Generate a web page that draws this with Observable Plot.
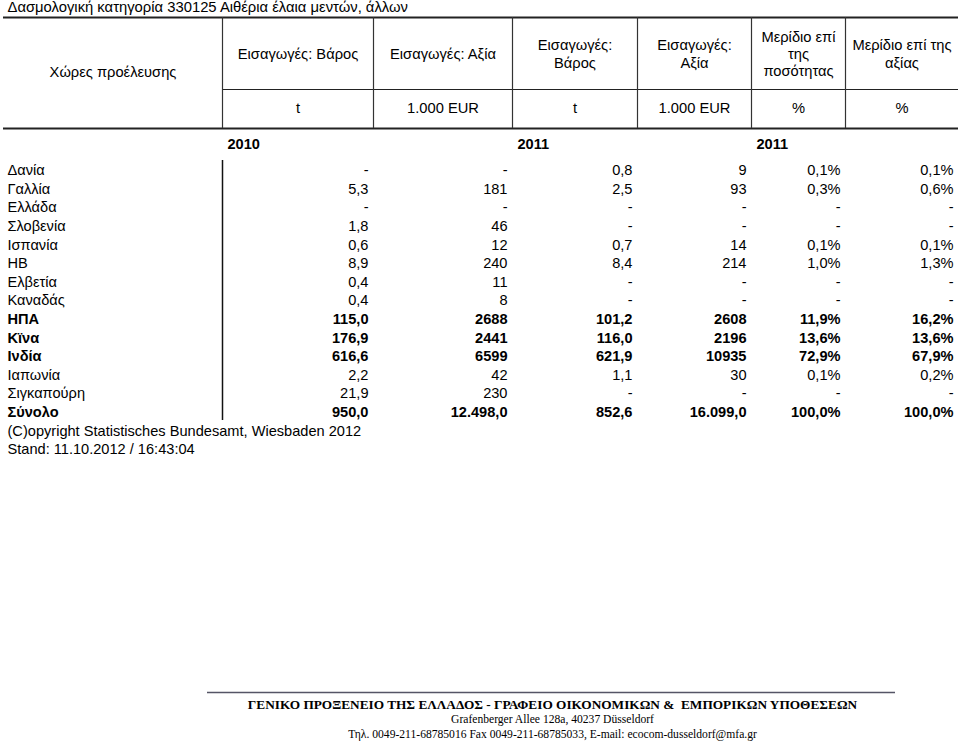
<!DOCTYPE html>
<html>
<head>
<meta charset="utf-8">
<script src="https://cdn.jsdelivr.net/npm/d3@7"></script>
<script src="https://cdn.jsdelivr.net/npm/@observablehq/plot@0.6"></script>
<style>
  html, body { margin: 0; padding: 0; background: #fff; }
  #chart svg { display: block; }
</style>
</head>
<body>
<div id="chart"></div>
<script>
// ---------- DATA ----------
const title = "Δασμολογική κατηγορία 330125 Αιθέρια έλαια μεντών, άλλων";
const countries = ["Δανία","Γαλλία","Ελλάδα","Σλοβενία","Ισπανία","ΗΒ","Ελβετία","Καναδάς","ΗΠΑ","Κϊνα","Ινδία","Ιαπωνία","Σιγκαπούρη","Σύνολο"];
const boldRows = ["ΗΠΑ","Κϊνα","Ινδία","Σύνολο"];
const weight2010 = [null, 5.3, null, 1.8, 0.6, 8.9, 0.4, 0.4, 115.0, 176.9, 616.6, 2.2, 21.9, 950.0];
const value2010  = [null, 181, null, 46, 12, 240, 11, 8, 2688, 2441, 6599, 42, 230, 12498.0];
const weight2011 = [0.8, 2.5, null, null, 0.7, 8.4, null, null, 101.2, 116.0, 621.9, 1.1, null, 852.6];
const value2011  = [9, 93, null, null, 14, 214, null, null, 2608, 2196, 10935, 30, null, 16099.0];
const shareQty   = [0.1, 0.3, null, null, 0.1, 1.0, null, null, 11.9, 13.6, 72.9, 0.1, null, 100.0];
const shareVal   = [0.1, 0.6, null, null, 0.1, 1.3, null, null, 16.2, 13.6, 67.9, 0.2, null, 100.0];
const rowHeader = "Χώρες προέλευσης";
const headers = ["Εισαγωγές: Βάρος","Εισαγωγές: Αξία","Εισαγωγές:\nΒάρος","Εισαγωγές:\nΑξία","Μερίδιο επί\nτης\nποσότητας","Μερίδιο επί της\nαξίας"];
const units = ["t","1.000 EUR","t","1.000 EUR","%","%"];
const yearLabels = ["2010","2011","2011"];
const yearCols = [0, 2, 4];
const notes = ["(C)opyright Statistisches Bundesamt, Wiesbaden 2012","Stand: 11.10.2012 / 16:43:04"];
const footer = ["ΓΕΝΙΚΟ ΠΡΟΞΕΝΕΙΟ ΤΗΣ ΕΛΛΑΔΟΣ - ΓΡΑΦΕΙΟ ΟΙΚΟΝΟΜΙΚΩΝ &  ΕΜΠΟΡΙΚΩΝ ΥΠΟΘΕΣΕΩΝ","Grafenberger Allee 128a, 40237 Düsseldorf","Τηλ. 0049-211-68785016 Fax 0049-211-68785033, E-mail: ecocom-dusseldorf@mfa.gr"];

// ---------- FORMATTERS ----------
const comma = (v, d) => v.toFixed(d).replace(".", ",");
const deThousands = v => {
  const [i, f] = v.toFixed(1).split(".");
  return i.replace(/\B(?=(\d{3})+(?!\d))/g, ".") + "," + f;
};
const columns = [
  {vals: weight2010, fmt: (v) => comma(v, 1)},
  {vals: value2010,  fmt: (v, tot) => tot ? deThousands(v) : String(Math.round(v))},
  {vals: weight2011, fmt: (v) => comma(v, 1)},
  {vals: value2011,  fmt: (v, tot) => tot ? deThousands(v) : String(Math.round(v))},
  {vals: shareQty,   fmt: (v) => comma(v, 1) + "%"},
  {vals: shareVal,   fmt: (v) => comma(v, 1) + "%"}
];

// ---------- LAYOUT (grid of the table, in px) ----------
const W = 960, H = 741;
const edges = [3, 222, 373, 512, 637, 751, 845, 958];   // column boundaries
const pad = 5;
const rowTop = 170, rowStep = 18.6;
const rowY = i => rowTop + i * rowStep;
const hTop = 17, hMid = 89, hBot = 128;
const fontMain = 14.7, fontBody = 14.6;

const labelCells = [], numCells = [];
countries.forEach((c, i) => {
  const bold = boldRows.includes(c);
  const tot = c === "Σύνολο";
  labelCells.push({x: 7, y: rowY(i), text: c, bold});
  columns.forEach((col, j) => {
    const v = col.vals[i];
    numCells.push({x: edges[j + 2] - pad, y: rowY(i), text: v == null ? "-" : col.fmt(v, tot), bold});
  });
});
notes.forEach((n, k) => labelCells.push({x: 7, y: rowY(countries.length + k), text: n, bold: false}));

const headerCells = headers.map((h, j) => ({x: (edges[j + 1] + edges[j + 2]) / 2, y: (hTop + hMid) / 2, text: h}));
const unitCells = units.map((u, j) => ({x: (edges[j + 1] + edges[j + 2]) / 2, y: (hMid + hBot) / 2 - 0.5, text: u}));
const yearCells = yearLabels.map((l, k) => ({x: edges[yearCols[k] + 1] + pad, y: 144, text: l}));

const hRules = [
  {y: hTop, x1: edges[0], x2: edges[7], w: 2},
  {y: hMid, x1: edges[1], x2: edges[7], w: 1},
  {y: hBot, x1: edges[0], x2: edges[7], w: 2}
];
const vRules = edges.slice(1, 7).map(x => ({x, y1: hTop, y2: hBot}));
const bodyRule = [{x: edges[1], y1: 160, y2: 420}];
const footerLines = footer.map((t, k) => ({x: 552, y: 704 + k * 15, text: t}));

const reg = d => !d.bold, bld = d => d.bold;
const textCommon = {x: "x", y: "y", text: "text", fill: "#000"};

const chart = Plot.plot({
  width: W, height: H, margin: 0,
  x: {type: "linear", domain: [0, W], range: [0, W], axis: null},
  y: {type: "linear", domain: [0, H], range: [0, H], axis: null},
  style: {fontFamily: "'Liberation Sans', Arial, sans-serif", background: "#fff", color: "#000"},
  marks: [
    Plot.text([{x: 7, y: 7, text: title}], {...textCommon, textAnchor: "start", fontSize: 14.8}),
    Plot.ruleY(hRules, {y: "y", x1: "x1", x2: "x2", stroke: "#222", strokeWidth: "w"}),
    Plot.ruleX(vRules, {x: "x", y1: "y1", y2: "y2", stroke: "#333", strokeWidth: 1.2}),
    Plot.ruleX(bodyRule, {x: "x", y1: "y1", y2: "y2", stroke: "#111", strokeWidth: 1.5}),
    Plot.text([{x: (edges[0] + edges[1]) / 2, y: 72, text: rowHeader}], {...textCommon, fontSize: fontMain}),
    Plot.text(headerCells, {...textCommon, fontSize: fontMain, lineHeight: 1.17}),
    Plot.text(unitCells, {...textCommon, fontSize: fontMain}),
    Plot.text(yearCells, {...textCommon, textAnchor: "start", fontSize: fontBody, fontWeight: "bold"}),
    Plot.text(labelCells, {...textCommon, filter: reg, textAnchor: "start", fontSize: fontBody}),
    Plot.text(labelCells, {...textCommon, filter: bld, textAnchor: "start", fontSize: fontBody, fontWeight: "bold"}),
    Plot.text(numCells, {...textCommon, filter: reg, textAnchor: "end", fontSize: fontBody}),
    Plot.text(numCells, {...textCommon, filter: bld, textAnchor: "end", fontSize: fontBody, fontWeight: "bold"}),
    Plot.ruleY([{y: 692, x1: 207, x2: 895}], {y: "y", x1: "x1", x2: "x2", stroke: "#556", strokeWidth: 1.5}),
    Plot.text(footerLines, {...textCommon, filter: (d, i) => i === 0, fontSize: 13.3, fontWeight: "bold", fontFamily: "'Liberation Serif', 'Times New Roman', serif"}),
    Plot.text(footerLines, {...textCommon, filter: (d, i) => i > 0, fontSize: 11.6, fontFamily: "'Liberation Serif', 'Times New Roman', serif"})
  ]
});
document.getElementById("chart").appendChild(chart);
</script>
</body>
</html>
